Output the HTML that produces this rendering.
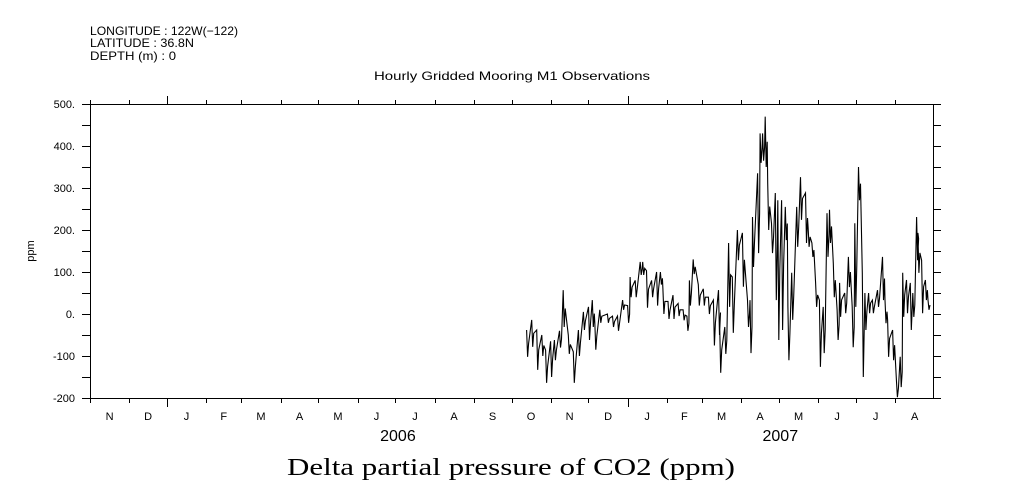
<!DOCTYPE html>
<html><head><meta charset="utf-8">
<style>
html,body{margin:0;padding:0;background:#fff;}
svg{display:block;font-family:"Liberation Sans",sans-serif;}
</style></head>
<body>
<svg id="chart" width="1009" height="504" viewBox="0 0 1009 504" xmlns="http://www.w3.org/2000/svg">
<g font-size="12" fill="#000">
<text x="90" y="35" textLength="148" lengthAdjust="spacingAndGlyphs">LONGITUDE : 122W(−122)</text>
<text x="90" y="47" textLength="104" lengthAdjust="spacingAndGlyphs">LATITUDE : 36.8N</text>
<text x="90" y="60" textLength="86" lengthAdjust="spacingAndGlyphs">DEPTH (m) : 0</text>
</g>
<text x="374" y="80" textLength="276" lengthAdjust="spacingAndGlyphs" font-size="12">Hourly Gridded Mooring M1 Observations</text>
<text transform="translate(34,251) rotate(-90)" text-anchor="middle" font-size="11">ppm</text>
<text x="287" y="475" textLength="448" lengthAdjust="spacingAndGlyphs" font-family="'Liberation Serif',serif" font-size="24">Delta partial pressure of CO2 (ppm)</text>
<g id="axes"></g>
<g id="series"></g>
</svg>
<script>
const yTicks = [500, 400, 300, 200, 100, 0, -100, -200];
const yTickLabels = ["500.", "400.", "300.", "200.", "100.", "0.", "-100", "-200"];
const monthLabels = ["N","D","J","F","M","A","M","J","J","A","S","O","N","D","J","F","M","A","M","J","J","A"];
const monthStartDays = [-61,-30,0,31,59,90,120,151,181,212,243,273,304,334,365,396,424,455,485,516,546,577,608];
const yearLabels = ["2006", "2007"];
const yearMidDays = [183, 486];
// days since 2006-01-01
const days = [285,289,293,297,300,304,307,311,314,318,322,326,330,334,337,339,343,349,353,357,361,365,367,371,375,377,380,384,388,391,393,397,401,405,409,412,414,417,421,425,429,433,437,438,442,445,448,452,456,460,462,464,468,470,472,474,476,479,482,484,487,490,492,495,499,502,506,508,511,514,517,520,523,525,528,531,533,537,540,543,545,548,551,553,556,559,563,567,569,571,575,578,581,583,586,589,591,594,595,598,601,603];
const highs = [-38,-14,-38,-50,-86,-65,-62,-40,57,-50,-90,-38,5,17,33,-20,10,0,-5,-5,33,20,88,80,124,124,103,80,100,100,60,30,45,25,10,-5,80,130,70,60,40,33,57,-31,-31,169,88,200,193,33,33,231,335,430,430,470,312,216,288,271,271,255,17,98,255,326,288,207,169,74,33,17,240,248,121,10,74,50,136,17,216,350,98,50,50,33,57,136,33,-14,-38,-157,-102,98,81,74,50,231,193,128,81,33];
const lows = [-102,-78,-133,-100,-164,-150,-110,-80,-31,-95,-164,-100,-38,-62,-31,-85,-21,-21,-31,-40,10,-21,40,40,93,93,15,40,20,70,0,-12,-12,-5,-15,-40,20,95,20,20,0,-75,-50,-140,-95,17,-45,128,65,-31,-93,112,145,360,365,350,200,145,33,-62,-38,176,-110,-14,160,224,169,160,136,17,-126,-93,136,169,40,-62,-7,2,64,-79,17,271,-150,-38,2,2,17,33,-22,-102,-110,-198,-174,-7,2,-38,-7,128,98,2,33,10];

const NS = "http://www.w3.org/2000/svg";
const X0 = 90, X1 = 933, Y0 = 104, Y1 = 398;
const dMin = -61, dMax = 607, vMin = -200, vMax = 500;
function xScale(d){ return X0 + (d - dMin) / (dMax - dMin) * (X1 - X0); }
function yScale(v){ return Y1 - (v - vMin) / (vMax - vMin) * (Y1 - Y0); }
function mk(tag, attrs, parent){ const e = document.createElementNS(NS, tag); for (const k in attrs) e.setAttribute(k, attrs[k]); parent.appendChild(e); return e; }

const axes = document.getElementById('axes');
const frame = mk('rect', {x:X0+0.5, y:Y0+0.5, width:X1-X0, height:Y1-Y0, fill:'none', stroke:'#000', 'stroke-width':1}, axes);



for (let v = vMin; v <= vMax; v += 50) {
  const y = Math.round(yScale(v)) + 0.5;
  const tl = mk('line', {x1:X0-8, x2:X0, y1:y, y2:y, stroke:'#000'}, axes);
  
  
  const tr = mk('line', {x1:X1, x2:X1+8, y1:y, y2:y, stroke:'#000'}, axes);
  
  
}
yTicks.forEach((v, i) => {
  const t = mk('text', {x:75, y:yScale(v)+4, 'text-anchor':'end', 'font-size':11}, axes);
  t.textContent = yTickLabels[i];
  
  
});

monthStartDays.forEach((d, i) => {
  if (d > dMax) return;
  const x = Math.round(xScale(d)) + 0.5;
  const big = (d === 0 || d === 365);
  const b = mk('line', {x1:x, x2:x, y1:Y1, y2:Y1+(big?9:5), stroke:'#000'}, axes);
  
  
  const t = mk('line', {x1:x, x2:x, y1:Y0, y2:Y0-(big?8:4), stroke:'#000'}, axes);
  
  
});
monthLabels.forEach((m, i) => {
  const mid = (monthStartDays[i] + monthStartDays[i+1]) / 2;
  const t = mk('text', {x:xScale(mid), y:420, 'text-anchor':'middle', 'font-size':11}, axes);
  t.textContent = m;
  
  
});
yearLabels.forEach((yl, i) => {
  const t = mk('text', {x:xScale(yearMidDays[i]), y:441, 'text-anchor':'middle', 'font-size':16}, axes);
  t.textContent = yl;
  
  
});

const series = document.getElementById('series');
let pts = [];
days.forEach((d, i) => {
  const x = xScale(d);
  const yh = yScale(highs[i]).toFixed(1), yl = yScale(lows[i]).toFixed(1);
  const mid = yScale((highs[i] + lows[i]) / 2).toFixed(1);
  pts.push(x.toFixed(1)+','+yh);
  pts.push((x+1).toFixed(1)+','+yl);
  pts.push((x+2).toFixed(1)+','+mid);
});
const line = mk('polyline', {points: pts.join(' '), fill:'none', stroke:'#000', 'stroke-width':1.1, 'stroke-linejoin':'miter'}, series);


</script>
</body></html>
